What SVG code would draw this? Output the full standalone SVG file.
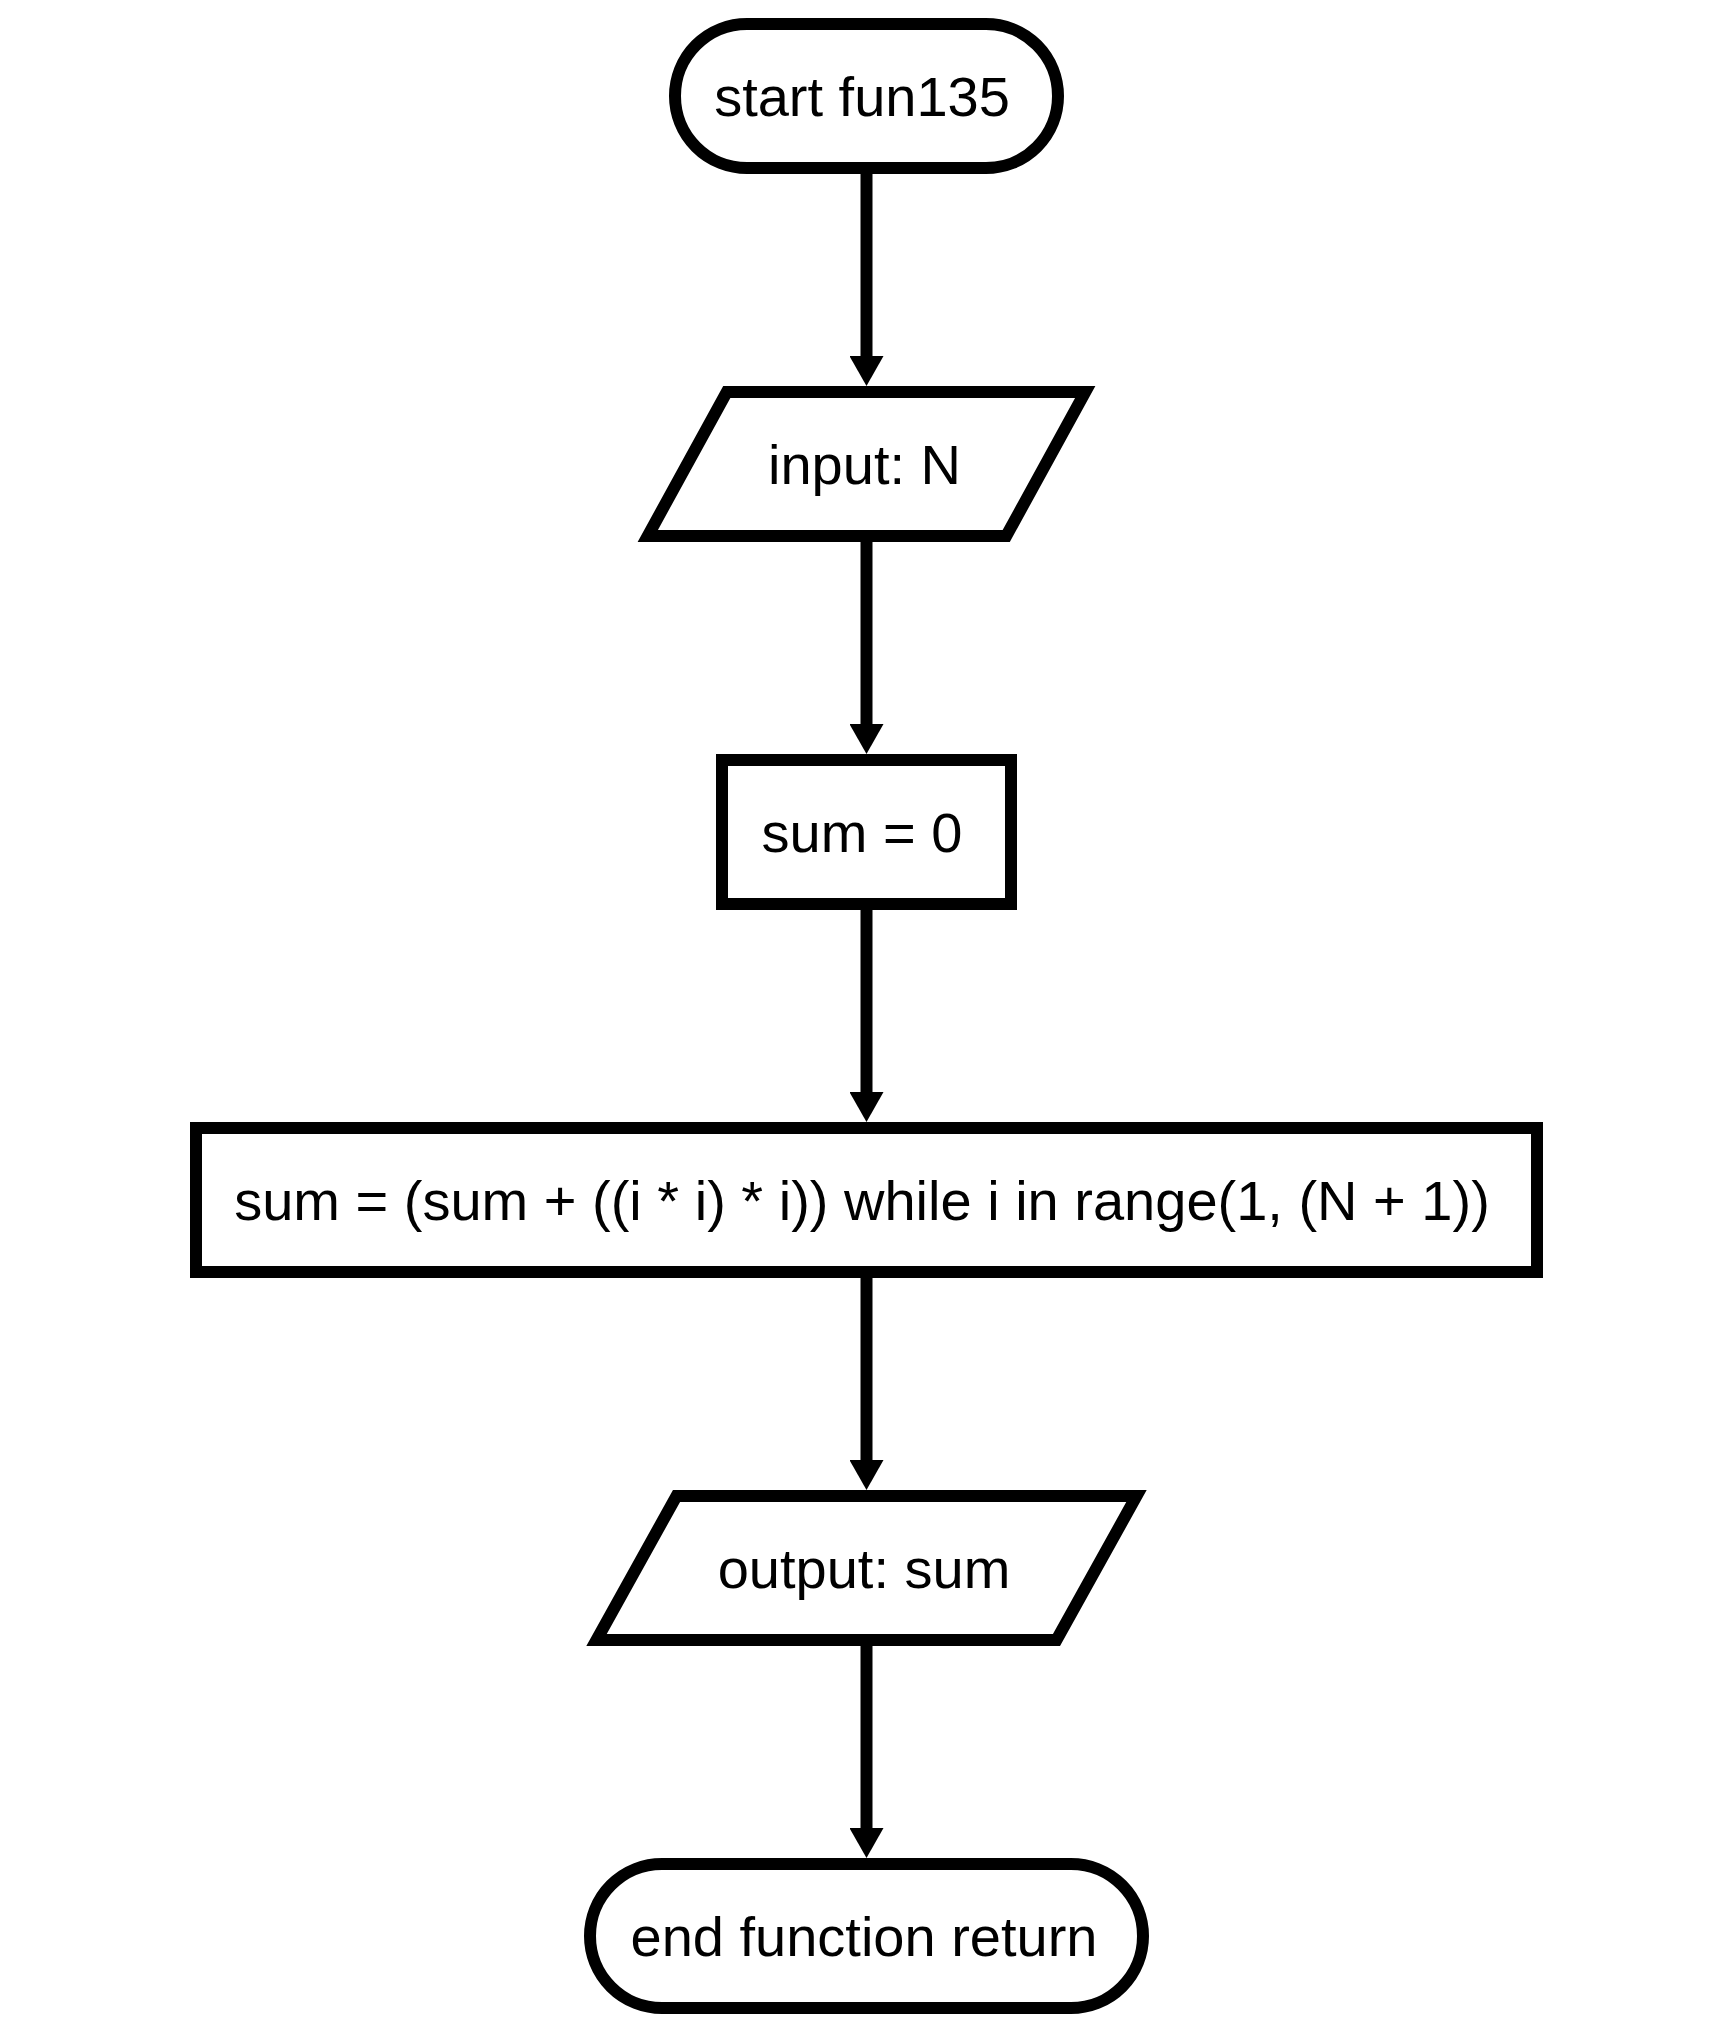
<svg xmlns="http://www.w3.org/2000/svg" width="1721" height="2020" viewBox="0 0 1721 2020">
<style>
.shape{fill:#ffffff;stroke:#000000;stroke-width:12;stroke-linejoin:miter}
.label{font-family:"Liberation Sans",Arial,sans-serif;font-size:56px;fill:#000000;text-anchor:middle}
.edge{stroke:#000000;stroke-width:12;fill:none}
</style>
<defs>
<marker id="arrow" markerUnits="userSpaceOnUse" markerWidth="30" markerHeight="34" refX="0" refY="17" orient="auto" viewBox="0 0 30 34">
<path d="M0,0 L30,17 L0,34 Z" fill="#000000"/>
</marker>
</defs>
<rect x="0" y="0" width="1721" height="2020" fill="#ffffff"/>
<g id="connectors">
<line class="edge" x1="866.5" y1="168" x2="866.5" y2="356" marker-end="url(#arrow)"/>
<line class="edge" x1="866.5" y1="536" x2="866.5" y2="724" marker-end="url(#arrow)"/>
<line class="edge" x1="866.5" y1="904" x2="866.5" y2="1092" marker-end="url(#arrow)"/>
<line class="edge" x1="866.5" y1="1272" x2="866.5" y2="1460" marker-end="url(#arrow)"/>
<line class="edge" x1="866.5" y1="1640" x2="866.5" y2="1828" marker-end="url(#arrow)"/>
</g>
<g id="start">
<rect class="shape" x="675" y="24" width="383" height="144" rx="72" ry="72"/>
<text class="label" x="862" y="116">start fun135</text>
</g>
<g id="input">
<polygon class="shape" points="726.75,392 1085.25,392 1006.25,536 647.75,536"/>
<text class="label" x="864.5" y="484">input: N</text>
</g>
<g id="init">
<rect class="shape" x="722" y="760" width="289" height="144"/>
<text class="label" x="862" y="852">sum = 0</text>
</g>
<g id="loop">
<rect class="shape" x="196" y="1128" width="1341" height="144"/>
<text class="label" x="862" y="1220">sum = (sum + ((i * i) * i)) while i in range(1, (N + 1))</text>
</g>
<g id="output">
<polygon class="shape" points="676.5,1496 1136.5,1496 1056.5,1640 596.5,1640"/>
<text class="label" x="864" y="1588">output: sum</text>
</g>
<g id="end">
<rect class="shape" x="590" y="1864" width="553" height="144" rx="72" ry="72"/>
<text class="label" x="864" y="1956">end function return</text>
</g>
</svg>
